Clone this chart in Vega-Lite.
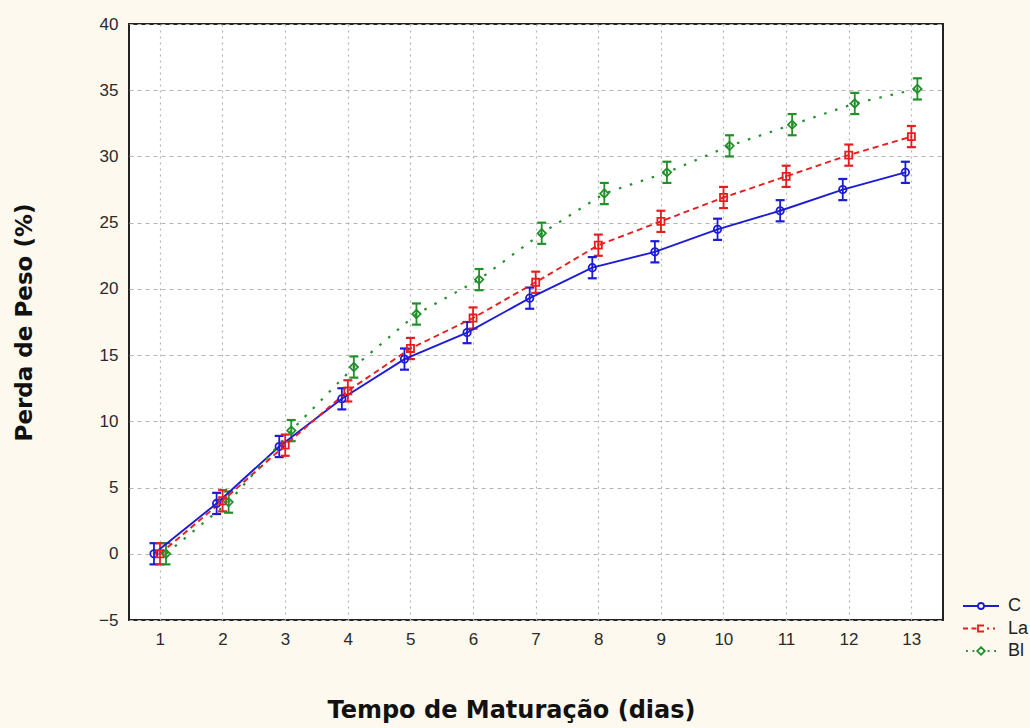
{
  "$schema": "https://vega.github.io/schema/vega-lite/v6.json",
  "width": 814,
  "height": 596,
  "autosize": {"type": "none"},
  "padding": {"left": 129, "top": 24, "right": 87, "bottom": 108},
  "background": "#fdf9ef",
  "config": {
    "view": {"stroke": "#222222", "strokeWidth": 2, "fill": "#ffffff"},
    "font": "Liberation Sans",
    "axisX": {
      "domain": false, "ticks": false, "labelAngle": 0,
      "labelFont": "Liberation Sans", "labelFontSize": 17, "labelColor": "#2a2a2a", "labelPadding": 11,
      "grid": true, "gridColor": "#b4b4b4", "gridDash": [2, 4], "gridWidth": 1.2,
      "titleFont": "DejaVu Sans", "titleFontSize": 24, "titleFontWeight": "bold", "titleColor": "#111111",
      "titlePadding": 51, "titleX": 382
    },
    "axisY": {
      "domain": false, "ticks": false,
      "labelFont": "Liberation Sans", "labelFontSize": 17, "labelColor": "#2a2a2a", "labelPadding": 11,
      "grid": true, "gridColor": "#b4b4b4", "gridDash": [4, 4], "gridWidth": 1.2,
      "titleFont": "DejaVu Sans", "titleFontSize": 23, "titleFontWeight": "bold", "titleColor": "#111111",
      "titlePadding": 62
    },
    "legend": {
      "symbolSize": 400, "symbolStrokeWidth": 1.8, "symbolOpacity": 1, "symbolFillColor": "transparent",
      "labelFont": "Liberation Sans", "labelFontSize": 18, "labelColor": "#222222",
      "labelOffset": 16, "rowPadding": 2.5
    }
  },
  "data": {
    "values": [
      {"dia": 1, "serie": "C", "perda": 0.0, "lo": -0.8, "hi": 0.8},
      {"dia": 2, "serie": "C", "perda": 3.8, "lo": 3.0, "hi": 4.6},
      {"dia": 3, "serie": "C", "perda": 8.1, "lo": 7.3, "hi": 8.9},
      {"dia": 4, "serie": "C", "perda": 11.7, "lo": 10.9, "hi": 12.5},
      {"dia": 5, "serie": "C", "perda": 14.7, "lo": 13.9, "hi": 15.5},
      {"dia": 6, "serie": "C", "perda": 16.7, "lo": 15.9, "hi": 17.5},
      {"dia": 7, "serie": "C", "perda": 19.3, "lo": 18.5, "hi": 20.1},
      {"dia": 8, "serie": "C", "perda": 21.6, "lo": 20.8, "hi": 22.4},
      {"dia": 9, "serie": "C", "perda": 22.8, "lo": 22.0, "hi": 23.6},
      {"dia": 10, "serie": "C", "perda": 24.5, "lo": 23.7, "hi": 25.3},
      {"dia": 11, "serie": "C", "perda": 25.9, "lo": 25.1, "hi": 26.7},
      {"dia": 12, "serie": "C", "perda": 27.5, "lo": 26.7, "hi": 28.3},
      {"dia": 13, "serie": "C", "perda": 28.8, "lo": 28.0, "hi": 29.6},
      {"dia": 1, "serie": "La", "perda": 0.0, "lo": -0.8, "hi": 0.8},
      {"dia": 2, "serie": "La", "perda": 4.0, "lo": 3.2, "hi": 4.8},
      {"dia": 3, "serie": "La", "perda": 8.2, "lo": 7.4, "hi": 9.0},
      {"dia": 4, "serie": "La", "perda": 12.3, "lo": 11.5, "hi": 13.1},
      {"dia": 5, "serie": "La", "perda": 15.5, "lo": 14.7, "hi": 16.3},
      {"dia": 6, "serie": "La", "perda": 17.8, "lo": 17.0, "hi": 18.6},
      {"dia": 7, "serie": "La", "perda": 20.5, "lo": 19.7, "hi": 21.3},
      {"dia": 8, "serie": "La", "perda": 23.3, "lo": 22.5, "hi": 24.1},
      {"dia": 9, "serie": "La", "perda": 25.1, "lo": 24.3, "hi": 25.9},
      {"dia": 10, "serie": "La", "perda": 26.9, "lo": 26.1, "hi": 27.7},
      {"dia": 11, "serie": "La", "perda": 28.5, "lo": 27.7, "hi": 29.3},
      {"dia": 12, "serie": "La", "perda": 30.1, "lo": 29.3, "hi": 30.9},
      {"dia": 13, "serie": "La", "perda": 31.5, "lo": 30.7, "hi": 32.3},
      {"dia": 1, "serie": "Bl", "perda": 0.0, "lo": -0.8, "hi": 0.8},
      {"dia": 2, "serie": "Bl", "perda": 3.9, "lo": 3.1, "hi": 4.7},
      {"dia": 3, "serie": "Bl", "perda": 9.3, "lo": 8.5, "hi": 10.1},
      {"dia": 4, "serie": "Bl", "perda": 14.1, "lo": 13.3, "hi": 14.9},
      {"dia": 5, "serie": "Bl", "perda": 18.1, "lo": 17.3, "hi": 18.9},
      {"dia": 6, "serie": "Bl", "perda": 20.7, "lo": 19.9, "hi": 21.5},
      {"dia": 7, "serie": "Bl", "perda": 24.2, "lo": 23.4, "hi": 25.0},
      {"dia": 8, "serie": "Bl", "perda": 27.2, "lo": 26.4, "hi": 28.0},
      {"dia": 9, "serie": "Bl", "perda": 28.8, "lo": 28.0, "hi": 29.6},
      {"dia": 10, "serie": "Bl", "perda": 30.8, "lo": 30.0, "hi": 31.6},
      {"dia": 11, "serie": "Bl", "perda": 32.4, "lo": 31.6, "hi": 33.2},
      {"dia": 12, "serie": "Bl", "perda": 34.0, "lo": 33.2, "hi": 34.8},
      {"dia": 13, "serie": "Bl", "perda": 35.1, "lo": 34.3, "hi": 35.9}
    ]
  },
  "encoding": {
    "x": {
      "field": "dia", "type": "ordinal",
      "scale": {"type": "band", "paddingInner": 0, "paddingOuter": 0},
      "title": "Tempo de Maturação (dias)"
    },
    "xOffset": {
      "field": "serie", "type": "nominal",
      "scale": {"type": "point", "domain": ["C", "La", "Bl"], "range": [22, 40]}
    },
    "color": {
      "field": "serie", "type": "nominal",
      "scale": {"domain": ["C", "La", "Bl"], "range": ["#1c1cd8", "#e81e1e", "#22902a"]},
      "legend": {"title": null, "orient": "none", "legendX": 841, "legendY": 571, "labelFontSize": 18, "labelOffset": 16}
    }
  },
  "layer": [
    {
      "mark": {"type": "point", "filled": false, "size": 0.5},
      "encoding": {
        "y": {"field": "perda", "type": "quantitative", "title": "Perda de Peso (%)",
              "scale": {"domain": [-5, 40], "nice": false, "zero": false},
              "axis": {"values": [-5, 0, 5, 10, 15, 20, 25, 30, 35, 40]}},
        "shape": {
          "field": "serie", "type": "nominal",
          "scale": {
            "domain": ["C", "La", "Bl"],
            "range": [
              "M-1.8,0H-0.3M0.3,0H1.8M0.3,0A0.3,0.3,0,1,1,-0.3,0A0.3,0.3,0,1,1,0.3,0",
              "M-1.8,0H-1.3M-0.95,0H-0.45M0.3,-0.3H-0.3V0.3H0.3M0.6,0H0.8M1.2,0H1.4",
              "M-1.5,0H-1.32M-0.85,0H-0.67M0,-0.38L0.38,0L0,0.38L-0.38,0ZM0.67,0H0.85M1.32,0H1.5"
            ]
          },
          "legend": {"title": null, "orient": "none", "legendX": 841, "legendY": 571, "labelFontSize": 18, "labelOffset": 16}
        }
      }
    },
    {
      "mark": {"type": "rule", "strokeWidth": 1.8},
      "encoding": {
        "y": {"field": "lo", "type": "quantitative", "title": "Perda de Peso (%)"},
        "y2": {"field": "hi"}
      }
    },
    {
      "mark": {"type": "point", "shape": "M-1,0H1", "filled": false, "size": 81, "strokeWidth": 2.2, "opacity": 1},
      "encoding": {"y": {"field": "lo", "type": "quantitative", "title": "Perda de Peso (%)"}}
    },
    {
      "mark": {"type": "point", "shape": "M-1,0H1", "filled": false, "size": 81, "strokeWidth": 2.2, "opacity": 1},
      "encoding": {"y": {"field": "hi", "type": "quantitative", "title": "Perda de Peso (%)"}}
    },
    {
      "transform": [{"filter": "datum.serie === 'C'"}],
      "mark": {"type": "line", "strokeWidth": 1.9},
      "encoding": {"y": {"field": "perda", "type": "quantitative", "title": "Perda de Peso (%)"}}
    },
    {
      "transform": [{"filter": "datum.serie === 'La'"}],
      "mark": {"type": "line", "strokeWidth": 1.9, "strokeDash": [6, 4]},
      "encoding": {"y": {"field": "perda", "type": "quantitative", "title": "Perda de Peso (%)"}}
    },
    {
      "transform": [{"filter": "datum.serie === 'Bl'"}],
      "mark": {"type": "line", "strokeWidth": 2.2, "strokeDash": [2.5, 9]},
      "encoding": {"y": {"field": "perda", "type": "quantitative", "title": "Perda de Peso (%)"}}
    },
    {
      "transform": [{"filter": "datum.serie === 'C'"}],
      "mark": {"type": "point", "shape": "circle", "filled": false, "size": 55, "strokeWidth": 1.8, "opacity": 1},
      "encoding": {"y": {"field": "perda", "type": "quantitative", "title": "Perda de Peso (%)"}}
    },
    {
      "transform": [{"filter": "datum.serie === 'La'"}],
      "mark": {"type": "point", "shape": "square", "filled": false, "size": 50, "strokeWidth": 1.8, "opacity": 1},
      "encoding": {"y": {"field": "perda", "type": "quantitative", "title": "Perda de Peso (%)"}}
    },
    {
      "transform": [{"filter": "datum.serie === 'Bl'"}],
      "mark": {"type": "point", "shape": "diamond", "filled": false, "size": 70, "strokeWidth": 1.8, "opacity": 1},
      "encoding": {"y": {"field": "perda", "type": "quantitative", "title": "Perda de Peso (%)"}}
    }
  ]
}
